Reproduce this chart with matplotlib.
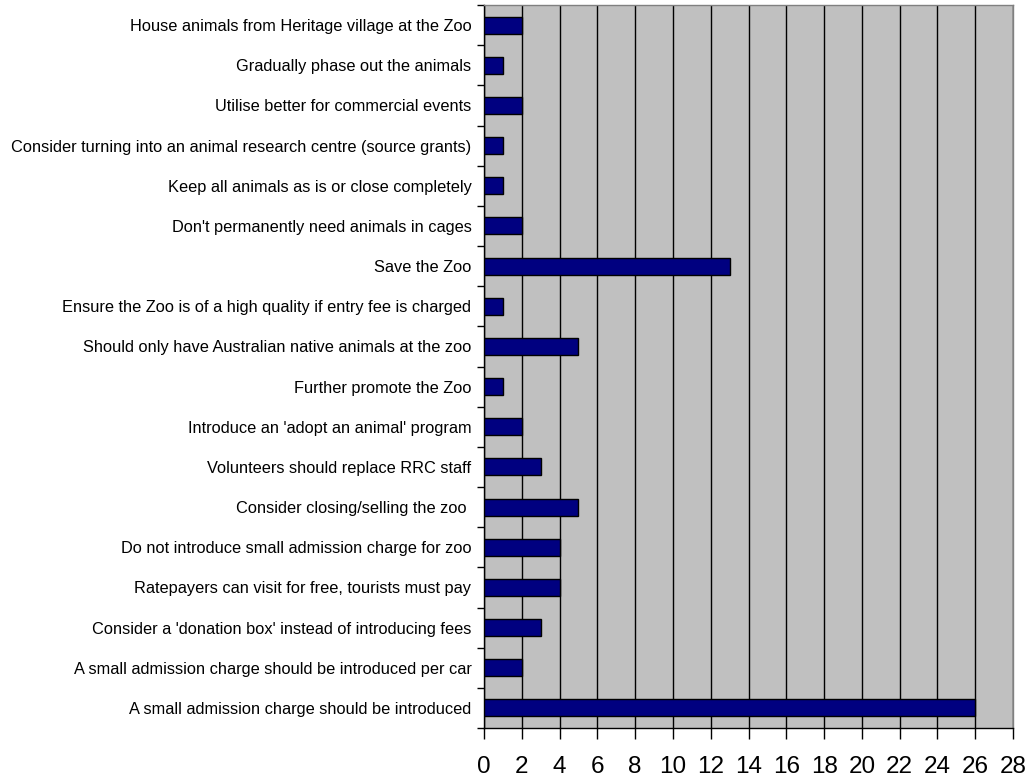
import matplotlib
matplotlib.use("Agg")
import matplotlib.pyplot as plt
import numpy as np

categories = [
    "House animals from Heritage village at the Zoo",
    "Gradually phase out the animals",
    "Utilise better for commercial events",
    "Consider turning into an animal research centre (source grants)",
    "Keep all animals as is or close completely",
    "Don't permanently need animals in cages",
    "Save the Zoo",
    "Ensure the Zoo is of a high quality if entry fee is charged",
    "Should only have Australian native animals at the zoo",
    "Further promote the Zoo",
    "Introduce an 'adopt an animal' program",
    "Volunteers should replace RRC staff",
    "Consider closing/selling the zoo ",
    "Do not introduce small admission charge for zoo",
    "Ratepayers can visit for free, tourists must pay",
    "Consider a 'donation box' instead of introducing fees",
    "A small admission charge should be introduced per car",
    "A small admission charge should be introduced",
]
values = [2, 1, 2, 1, 1, 2, 13, 1, 5, 1, 2, 3, 5, 4, 4, 3, 2, 26]
xticks = list(range(0, 29, 2))

plt.rcParams['font.family'] = ['Liberation Sans', 'DejaVu Sans']

fig = plt.figure(figsize=(10.3, 7.8), dpi=100)
ax = fig.add_axes([484/1030, (780-728)/780, (1013-484)/1030, (728-5)/780])
ax.set_facecolor('#C0C0C0')

n = len(categories)
pos = np.arange(n)[::-1]
ax.barh(pos, values, height=0.42, color='#000080', edgecolor='black', linewidth=1, zorder=3)

ax.set_xlim(0, 28)
ax.set_ylim(-0.5, n - 0.5)
ax.set_xticks(xticks)
ax.set_xticklabels([str(t) for t in xticks], fontsize=17.5)
ax.set_yticks(pos)
ax.set_yticklabels(categories, fontsize=11.8)
ax.set_yticks(np.arange(-0.5, n, 1), minor=True)
ax.tick_params(axis='y', which='major', length=0, pad=9)
ax.tick_params(axis='y', which='minor', length=5, width=1, direction='out', color='black')
ax.tick_params(axis='x', which='major', length=8, width=1, direction='out', pad=12)
ax.xaxis.grid(True, color='black', linewidth=1, zorder=1)
ax.set_axisbelow(True)

for s in ['top', 'right']:
    ax.spines[s].set_color('#808080')
    ax.spines[s].set_linewidth(1)
for s in ['left', 'bottom']:
    ax.spines[s].set_color('black')
    ax.spines[s].set_linewidth(1)

fig.savefig('out.png', dpi=100)
